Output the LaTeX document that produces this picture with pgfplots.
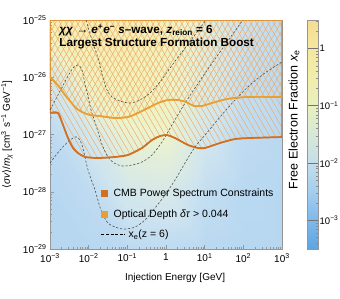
\documentclass[border=0pt]{standalone}
\usepackage{pgfplots}
\usepackage{pgfplotstable}
\pgfplotsset{compat=1.18}
\usepackage{fontspec}
\setmainfont{Liberation Sans}
\newfontfamily\dejavu{DejaVu Sans}
\usetikzlibrary{patterns.meta}
\definecolor{cmbc}{RGB}{208,112,32}
\definecolor{optc}{RGB}{234,160,48}
\definecolor{hatchc}{RGB}{238,172,105}
\definecolor{framec}{RGB}{150,150,150}
\definecolor{contc}{RGB}{80,80,80}
\pgfplotsset{colormap={xe}{rgb255=(95,165,225) rgb255=(125,185,235) rgb255=(165,205,238) rgb255=(195,222,235) rgb255=(215,232,215) rgb255=(232,240,190) rgb255=(240,238,170) rgb255=(245,232,160) rgb255=(245,220,145)}}

\pgfplotstableread{
E S
1e-3 2.38e-27
1.61e-3 2.38e-27
2.17e-3 1.47e-27
2.92e-3 8.69e-28
3.94e-3 5.81e-28
5.30e-3 4.75e-28
8.04e-3 4.05e-28
1.74e-2 3.89e-28
4.80e-2 4.05e-28
0.104 4.39e-28
0.239 5.81e-28
0.435 8.02e-28
0.700 9.42e-28
1.062 9.79e-28
1.706 8.69e-28
3.71 6.56e-28
6.71 5.81e-28
10.19 5.81e-28
24.9 7.11e-28
60.8 8.34e-28
148.6 8.69e-28
1000 9.04e-28
}\cmbtable

\pgfplotstableread{
E S
1e-3 1.01e-26
1.35e-3 8.26e-27
1.82e-3 6.49e-27
2.44e-3 4.90e-27
3.29e-3 3.85e-27
4.70e-3 2.90e-27
6.73e-3 2.47e-27
1.08e-2 2.19e-27
1.96e-2 2.10e-27
4.80e-2 1.94e-27
0.104 2.02e-27
0.189 2.38e-27
0.342 2.90e-27
0.621 3.55e-27
1.125 4.01e-27
2.04 4.01e-27
3.29 3.70e-27
5.30 3.15e-27
8.53 3.15e-27
15.5 3.55e-27
37.8 4.17e-27
124 4.52e-27
1000 4.52e-27
}\opttable

\pgfplotstableread{
E S
8.53e-3 1e-25
1.22e-2 4.48e-26
1.74e-2 2.17e-26
2.35e-2 9.70e-27
2.98e-2 5.98e-27
4.01e-2 4.52e-27
6.46e-2 3.85e-27
0.117 3.55e-27
0.212 4.01e-27
0.385 5.31e-27
0.700 8.26e-27
1.268 1.45e-26
3.10 3.24e-26
7.57 7.24e-26
10.8 1e-25
}\contA

\pgfplotstableread{
E S
1e-3 2.68e-27
1.61e-3 4.90e-27
2.92e-3 1.05e-26
3.94e-3 1.45e-26
5.30e-3 1.64e-26
6.73e-3 1.34e-26
8.04e-3 7.62e-27
9.62e-3 4.70e-27
1.15e-2 2.68e-27
1.46e-2 1.65e-27
1.85e-2 9.79e-28
2.35e-2 6.05e-28
3.16e-2 4.05e-28
4.52e-2 3.18e-28
7.28e-2 2.82e-28
0.132 2.93e-28
0.239 3.31e-28
0.435 4.39e-28
0.787 7.40e-28
1.429 1.47e-27
2.59 2.90e-27
5.62 6.49e-27
13.7 1.57e-26
33.6 3.66e-26
81.8 8.51e-26
98.0 1e-25
}\contB

\pgfplotstableread{
E S
1e-3 3.18e-28
1.82e-3 5.36e-28
3.29e-3 8.02e-28
4.99e-3 9.04e-28
6.73e-3 6.56e-28
9.62e-3 2.40e-28
1.46e-2 1.07e-28
2.08e-2 4.80e-29
3.16e-2 2.84e-29
5.73e-2 2.33e-29
8.71e-2 2.23e-29
0.158 2.42e-29
0.286 3.21e-29
0.519 5.20e-29
0.942 8.77e-29
1.706 1.60e-28
3.10 3.18e-28
5.62 6.05e-28
10.19 9.79e-28
24.9 2.02e-27
60.8 4.01e-27
148.6 7.33e-27
363 1.19e-26
1000 1.85e-26
}\contC

\begin{document}
\begin{tikzpicture}
\useasboundingbox (-50bp,-50bp) rectangle (290bp,249bp);
% background: free electron fraction (log10 x_e)
\begin{axis}[at={(0,0)}, anchor=south west, scale only axis, width=232bp, height=229bp,
  view={0}{90}, xmode=log, ymode=log, xmin=1e-3, xmax=1e3, ymin=1e-29, ymax=1e-25,
  hide axis, colormap name=xe, point meta min=-3.5, point meta max=0.5]
\addplot3[surf, shader=interp, mesh/cols=7, point meta=explicit, opacity=0.8] table[x=E,y=S,z=Z,meta=C] {
E S Z C
1e-3 1e-29 0 -2.5
1e-2 1e-29 0 -2.5
1e-1 1e-29 0 -2.4
1 1e-29 0 -2.35
1e1 1e-29 0 -2.45
1e2 1e-29 0 -2.5
1e3 1e-29 0 -2.5
1e-3 1e-28 0 -2.5
1e-2 1e-28 0 -2.35
1e-1 1e-28 0 -1.85
1 1e-28 0 -1.75
1e1 1e-28 0 -2.25
1e2 1e-28 0 -2.45
1e3 1e-28 0 -2.5
1e-3 1e-27 0 -2.4
1e-2 1e-27 0 -1.9
1e-1 1e-27 0 -1.15
1 1e-27 0 -1.05
1e1 1e-27 0 -1.9
1e2 1e-27 0 -2.35
1e3 1e-27 0 -2.45
1e-3 1e-26 0 -1.9
1e-2 1e-26 0 -0.7
1e-1 1e-26 0 -0.35
1 1e-26 0 -0.75
1e1 1e-26 0 -1.6
1e2 1e-26 0 -2.2
1e3 1e-26 0 -2.4
1e-3 1e-25 0 -0.2
1e-2 1e-25 0 -0.05
1e-1 1e-25 0 -0.1
1 1e-25 0 -0.6
1e1 1e-25 0 -1.4
1e2 1e-25 0 -2.1
1e3 1e-25 0 -2.3
};
\end{axis}
% main axis
\begin{axis}[name=main, at={(0,0)}, anchor=south west, scale only axis, width=232bp, height=229bp,
  xmode=log, ymode=log, xmin=1e-3, xmax=1e3, ymin=1e-29, ymax=1e-25,
  axis line style={framec, line width=0.6bp},
  tick pos=left, tick align=inside,
  tick style={framec, line width=0.5bp},
  major tick length=4.5bp, minor tick length=2.5bp,
  xtick={1e-3,1e-2,1e-1,1,1e1,1e2,1e3},
  xticklabels={10\textsuperscript{−3},10\textsuperscript{−2},10\textsuperscript{−1},1,10\textsuperscript{1},10\textsuperscript{2},10\textsuperscript{3}},
  minor xtick={2e-3,3e-3,4e-3,5e-3,6e-3,7e-3,8e-3,9e-3,2e-2,3e-2,4e-2,5e-2,6e-2,7e-2,8e-2,9e-2,0.2,0.3,0.4,0.5,0.6,0.7,0.8,0.9,2,3,4,5,6,7,8,9,20,30,40,50,60,70,80,90,200,300,400,500,600,700,800,900},
  ytick={1e-29,1e-28,1e-27,1e-26,1e-25},
  yticklabels={10\textsuperscript{−29},10\textsuperscript{−28},10\textsuperscript{−27},10\textsuperscript{−26},10\textsuperscript{−25}},
  minor ytick={2e-29,3e-29,4e-29,5e-29,6e-29,7e-29,8e-29,9e-29,2e-28,3e-28,4e-28,5e-28,6e-28,7e-28,8e-28,9e-28,2e-27,3e-27,4e-27,5e-27,6e-27,7e-27,8e-27,9e-27,2e-26,3e-26,4e-26,5e-26,6e-26,7e-26,8e-26,9e-26},
  tick label style={font=\fontsize{10bp}{12bp}\selectfont, black},
  xticklabel style={yshift=-1bp},
  xlabel={Injection Energy [GeV]},
  ylabel={{\dejavu ⟨}\textit{σv}{\dejavu ⟩}/\textit{m}\textsubscript{\textit{χ}} [cm\textsuperscript{3} s\textsuperscript{−1} GeV\textsuperscript{−1}]},
  label style={font=\fontsize{10bp}{12bp}\selectfont},
  xlabel style={at={(axis description cs:0.539,-0.127)}, anchor=center},
  ylabel style={at={(axis description cs:-0.185,0.5)}, anchor=center},
  legend cell align=left,
  legend style={at={(0.22,0.262)}, anchor=north west, draw=none, fill=none, inner sep=0pt,
    row sep=11bp, font=\fontsize{10.5bp}{12bp}\selectfont,
    nodes={inner xsep=6bp, inner ysep=0pt, text height=7.5bp, text depth=2bp}},
  colormap name=xe, point meta min=-3.5, point meta max=0.5,
  colorbar,
  colorbar shift/.style={},
  colorbar style={at={(parent axis.north east)}, anchor=north west, xshift=25bp,
    scale only axis, width=11bp, height=229bp,
    axis line style={framec, line width=0.5bp},
    ytick={-3,-2,-1,0},
    yticklabels={10\textsuperscript{−3},10\textsuperscript{−2},10\textsuperscript{−1},1},
    minor ytick={-3.398,-3.301,-3.222,-3.155,-3.097,-3.046,-2.699,-2.523,-2.398,-2.301,-2.222,-2.155,-2.097,-2.046,-1.699,-1.523,-1.398,-1.301,-1.222,-1.155,-1.097,-1.046,-0.699,-0.523,-0.398,-0.301,-0.222,-0.155,-0.097,-0.046,0.301,0.477},
    ytick pos=right, yticklabel pos=right, tick align=inside,
    major tick length=11bp, minor tick length=2.5bp,
    major tick style={black!55, line width=0.9bp},
    minor tick style={black!45, line width=0.4bp},
    yticklabel style={font=\fontsize{9.5bp}{11bp}\selectfont, black, inner xsep=1.5bp}}
]
% CMB excluded region (hatched \\\)
\addplot[forget plot, draw=cmbc, line width=1.2bp, pattern={Lines[angle=-60, distance=5bp, line width=0.5bp]}, pattern color=hatchc, fill opacity=0.65] coordinates {
(1e-3,1e-25) (1e-3,2.38e-27) (1.61e-3,2.38e-27) (2.17e-3,1.47e-27) (2.92e-3,8.69e-28) (3.94e-3,5.81e-28) (5.30e-3,4.75e-28) (8.04e-3,4.05e-28) (1.74e-2,3.89e-28) (4.80e-2,4.05e-28) (0.104,4.39e-28) (0.239,5.81e-28) (0.435,8.02e-28) (0.700,9.42e-28) (1.062,9.79e-28) (1.706,8.69e-28) (3.71,6.56e-28) (6.71,5.81e-28) (10.19,5.81e-28) (24.9,7.11e-28) (60.8,8.34e-28) (148.6,8.69e-28) (1000,9.04e-28) (1000,1e-25) (1e-3,1e-25)};
% optical depth excluded region (hatched ///)
\addplot[forget plot, draw=optc, line width=1.2bp, pattern={Lines[angle=60, distance=5bp, line width=0.5bp]}, pattern color=hatchc, fill opacity=0.65] coordinates {
(1e-3,1e-25) (1e-3,1.01e-26) (1.35e-3,8.26e-27) (1.82e-3,6.49e-27) (2.44e-3,4.90e-27) (3.29e-3,3.85e-27) (4.70e-3,2.90e-27) (6.73e-3,2.47e-27) (1.08e-2,2.19e-27) (1.96e-2,2.10e-27) (4.80e-2,1.94e-27) (0.104,2.02e-27) (0.189,2.38e-27) (0.342,2.90e-27) (0.621,3.55e-27) (1.125,4.01e-27) (2.04,4.01e-27) (3.29,3.70e-27) (5.30,3.15e-27) (8.53,3.15e-27) (15.5,3.55e-27) (37.8,4.17e-27) (124,4.52e-27) (1000,4.52e-27) (1000,1e-25) (1e-3,1e-25)};
% x_e contours
\addplot[forget plot, contc, line width=0.6bp, dash pattern=on 2.2bp off 1.8bp, smooth, tension=0.5] table[x=E,y=S] {\contA};
\addplot[forget plot, contc, line width=0.6bp, dash pattern=on 2.2bp off 1.8bp, smooth, tension=0.5] table[x=E,y=S] {\contB};
\addplot[forget plot, contc, line width=0.6bp, dash pattern=on 2.2bp off 1.8bp, smooth, tension=0.5] table[x=E,y=S] {\contC};
% constraint curves
\addplot[forget plot, optc, line width=1.7bp, smooth, tension=0.5] table[x=E,y=S] {\opttable};
\addplot[forget plot, cmbc, line width=1.7bp, smooth, tension=0.5] table[x=E,y=S] {\cmbtable};
% legend
\addlegendimage{legend image code/.code={\fill[cmbc] (0bp,-2.25bp) rectangle (6bp,3.75bp);}}
\addlegendentry{CMB Power Spectrum Constraints}
\addlegendimage{legend image code/.code={\fill[optc] (0bp,-2.25bp) rectangle (6bp,3.75bp);}}
\addlegendentry{Optical Depth \textit{δτ} > 0.044}
\addlegendimage{legend image code/.code={\draw[overlay, black, line width=0.6bp, dash pattern=on 3bp off 1.6bp] (0bp,0.75bp) -- (24bp,0.75bp); \path (0bp,0bp) (6bp,0bp);}}
\addlegendentry{\hspace*{15bp}x\textsubscript{e}(z = 6)}
% title
\node[anchor=north west, inner sep=0pt, align=left, font=\bfseries\fontsize{11.7bp}{12.5bp}\selectfont] at (rel axis cs:0.04,0.98) {\textit{χχ} → \textit{e}\textsuperscript{+}\textit{e}\textsuperscript{−} \textit{s}–wave, \textit{z}\textsubscript{reion} = 6\\Largest Structure Formation Boost};
\end{axis}
\node[rotate=90, font=\fontsize{12.5bp}{14bp}\selectfont] at ([xshift=12bp, yshift=15bp]main.east) {Free Electron Fraction \textit{x}\textsubscript{e}};
\end{tikzpicture}
\end{document}
